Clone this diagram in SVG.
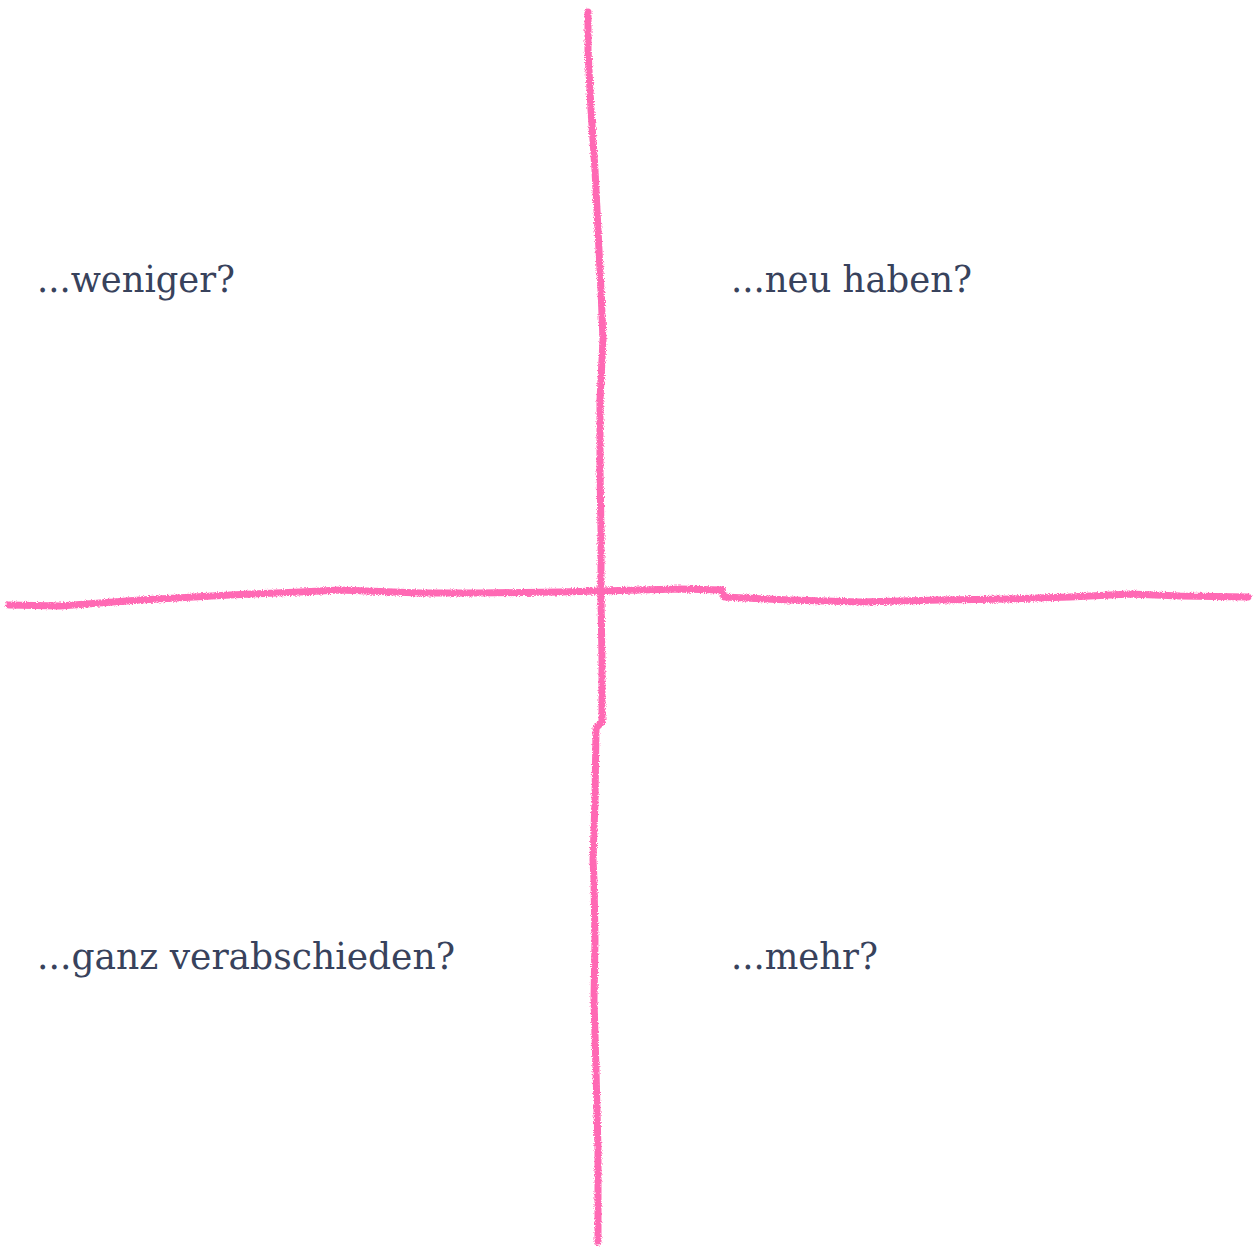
<svg xmlns="http://www.w3.org/2000/svg" width="1255" height="1251" viewBox="0 0 1255 1251">
<defs>
<style>
.lbl{font-family:"DejaVu Serif","Liberation Serif",serif;font-size:38px;fill:#38425c;}
.chalk{fill:none;stroke:#ff69b4;stroke-width:7;stroke-linecap:round;stroke-linejoin:round;}
</style>
<filter id="rough" x="-5%" y="-5%" width="110%" height="110%">
<feTurbulence type="fractalNoise" baseFrequency="0.9" numOctaves="2" seed="3" result="n"/>
<feDisplacementMap in="SourceGraphic" in2="n" scale="4" xChannelSelector="R" yChannelSelector="G"/>
</filter>
</defs>
<rect width="1255" height="1251" fill="#ffffff"/>
<g id="connectors" filter="url(#rough)">
<path class="chalk" d="M588,12 L588,50 L591,110 L595,170 L598,230 L601,290 L603,340 L600,400 L600,470 L601,530 L601,600 L602,660 L602,722 L596,728 L595,800 L593,860 L594,880 L595,940 L594,1000 L596,1070 L598,1150 L598,1200 L598,1242"/>
<path class="chalk" d="M9,605 L60,606 L140,600 L230,595 L300,592 L340,590 L420,593 L480,593 L560,592 L600,591 L680,589 L722,590 L724,597 L790,600 L860,602 L940,600 L1010,599 L1070,597 L1130,594 L1180,596 L1248,597"/>
</g>
<g id="q-weniger"><text class="lbl" x="37" y="292" textLength="198" lengthAdjust="spacingAndGlyphs">...weniger?</text></g>
<g id="q-neu"><text class="lbl" x="731" y="292" textLength="241" lengthAdjust="spacingAndGlyphs">...neu haben?</text></g>
<g id="q-ganz"><text class="lbl" x="37" y="969" textLength="418" lengthAdjust="spacingAndGlyphs">...ganz verabschieden?</text></g>
<g id="q-mehr"><text class="lbl" x="731" y="969" textLength="147" lengthAdjust="spacingAndGlyphs">...mehr?</text></g>
</svg>
